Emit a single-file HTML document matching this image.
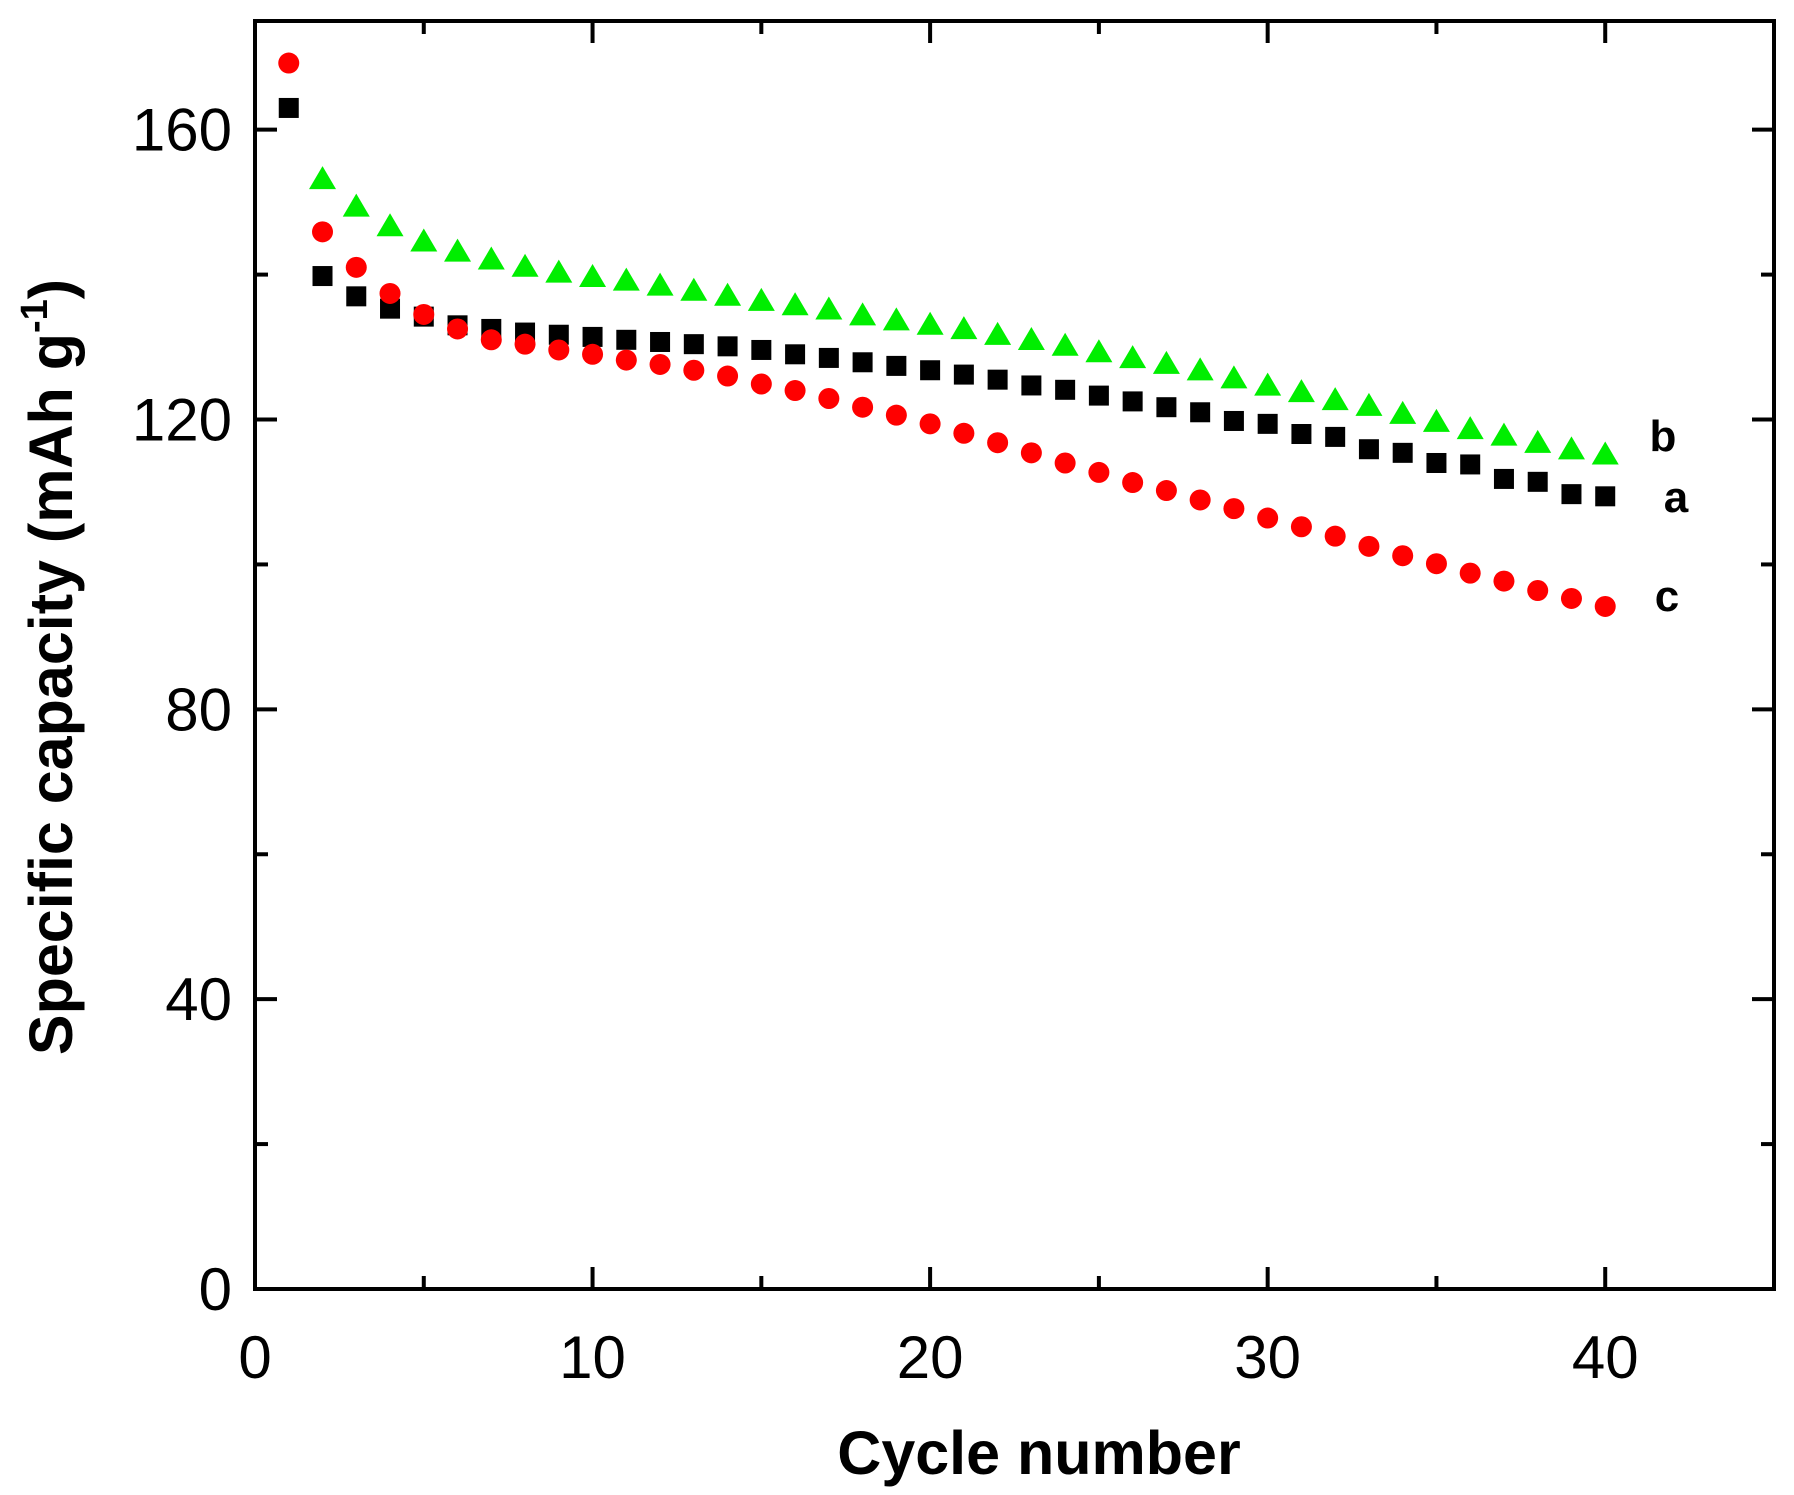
<!DOCTYPE html>
<html><head><meta charset="utf-8"><style>html,body{margin:0;padding:0;background:#fff}svg{display:block}</style></head>
<body>
<svg id="s" width="1794" height="1495" xmlns="http://www.w3.org/2000/svg" font-family="Liberation Sans, Arial, sans-serif"></svg>
<script>
const s=document.getElementById('s');
const X0=255,X1=1774,Y0=1289,Y1=21;
const xs=v=>X0+v*(X1-X0)/45, ys=v=>Y0-v*(Y0-Y1)/175;
let h='';
h+=`<rect x="${X0}" y="${Y1}" width="${X1-X0}" height="${Y0-Y1}" fill="none" stroke="#000" stroke-width="4"/>`;
for(let v=5;v<45;v+=5){const L=v%10==0?22:13,x=xs(v);
h+=`<line x1="${x}" y1="${Y0}" x2="${x}" y2="${Y0-L}" stroke="#000" stroke-width="4"/><line x1="${x}" y1="${Y1}" x2="${x}" y2="${Y1+L}" stroke="#000" stroke-width="4"/>`;}
for(let v=20;v<175;v+=20){const L=v%40==0?22:13,y=ys(v);
h+=`<line x1="${X0}" y1="${y}" x2="${X0+L}" y2="${y}" stroke="#000" stroke-width="4"/><line x1="${X1}" y1="${y}" x2="${X1-L}" y2="${y}" stroke="#000" stroke-width="4"/>`;}
for(let v=0;v<=40;v+=10)h+=`<text x="${xs(v)}" y="1378" font-size="60" text-anchor="middle">${v}</text>`;
for(let v=0;v<=160;v+=40)h+=`<text x="232" y="${ys(v)+21}" font-size="60" text-anchor="end">${v}</text>`;
h+=`<text x="1039" y="1474" font-size="61" font-weight="bold" text-anchor="middle">Cycle number</text>`;
h+=`<text transform="translate(72,667) rotate(-90)" font-size="61" font-weight="bold" text-anchor="middle">Specific capacity (mAh g<tspan dy="-25" font-size="38">-1</tspan><tspan dy="25">)</tspan></text>`;
const A=[163,139.8,137,135.3,134.2,133,132.5,132,131.7,131.4,131,130.7,130.4,130.1,129.6,129,128.5,127.9,127.4,126.8,126.2,125.5,124.7,124.1,123.3,122.5,121.7,121,119.8,119.4,118,117.6,115.9,115.4,114,113.8,111.8,111.4,109.7,109.4];
const B=[null,152.9,149.1,146.4,144.3,142.9,141.8,140.8,140,139.4,138.9,138.2,137.5,136.8,136.1,135.5,134.9,134.1,133.4,132.8,132.2,131.4,130.7,129.9,129,128.2,127.4,126.5,125.4,124.4,123.5,122.4,121.6,120.5,119.4,118.4,117.5,116.5,115.6,114.9];
const C=[169.2,145.9,141,137.4,134.5,132.5,131,130.4,129.6,129,128.2,127.6,126.8,126,124.9,124,122.9,121.7,120.6,119.4,118.1,116.8,115.4,114,112.7,111.3,110.2,108.9,107.7,106.4,105.2,103.9,102.5,101.2,100.1,98.8,97.7,96.4,95.3,94.2];
A.forEach((v,i)=>{const x=xs(i+1),y=ys(v);h+=`<rect x="${x-10}" y="${y-10}" width="20" height="20" fill="#000"/>`;});
C.forEach((v,i)=>{const x=xs(i+1),y=ys(v);h+=`<circle cx="${x}" cy="${y}" r="10.5" fill="#ff0000"/>`;});
B.forEach((v,i)=>{if(v==null)return;const x=xs(i+1),y=ys(v);h+=`<polygon points="${x-13.5},${y+8} ${x+13.5},${y+8} ${x},${y-15}" fill="#00ee00"/>`;});
h+=`<text x="1663" y="451" font-size="44" font-weight="bold" text-anchor="middle">b</text>`;
h+=`<text x="1676" y="512" font-size="44" font-weight="bold" text-anchor="middle">a</text>`;
h+=`<text x="1667" y="611" font-size="44" font-weight="bold" text-anchor="middle">c</text>`;
s.innerHTML=h;
</script>
</body></html>
